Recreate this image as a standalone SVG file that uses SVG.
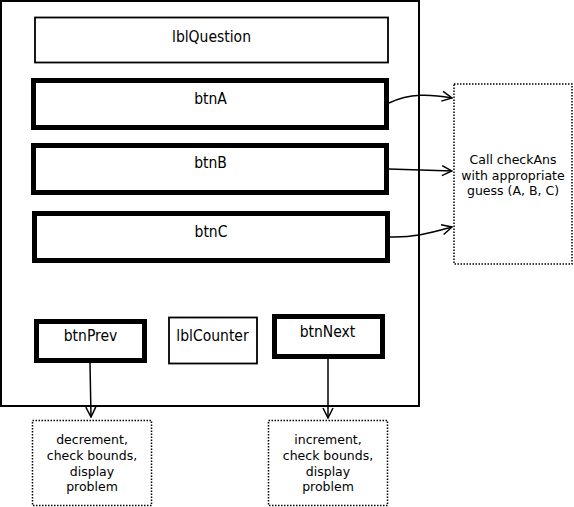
<svg xmlns="http://www.w3.org/2000/svg" width="574" height="507" viewBox="0 0 574 507">
<style>
.hand{font-family:"DejaVu Sans Condensed","Liberation Sans Narrow",sans-serif;font-size:15.5px;fill:#000;text-anchor:middle}
.note{font-family:"DejaVu Sans",sans-serif;font-size:12.5px;fill:#000;text-anchor:middle}
.btn{fill:#fff;stroke:#000;stroke-width:5}
.lbl{fill:#fff;stroke:#000;stroke-width:1.8}
.dot{fill:#fff;stroke:#000;stroke-width:1.5;stroke-dasharray:1.5 1.5}
.conn{fill:none;stroke:#000;stroke-width:1.5}
</style>
<defs>
<marker id="arr" viewBox="0 0 12 12" refX="11" refY="6" markerWidth="12" markerHeight="12" markerUnits="userSpaceOnUse" orient="auto">
<path d="M1,1 L11,6 L1,11" fill="none" stroke="#000" stroke-width="1.5"/>
</marker>
</defs>
<rect width="574" height="507" fill="#fff"/>
<g id="frame"><rect x="1" y="1" width="418" height="405" fill="#fff" stroke="#000" stroke-width="2"/></g>
<g id="lblQuestion"><rect class="lbl" x="35" y="17.5" width="353" height="45"/><text class="hand" x="211.5" y="42">lblQuestion</text></g>
<g id="btnA"><rect class="btn" x="33.5" y="80.5" width="353" height="47"/><text class="hand" x="210.5" y="104">btnA</text></g>
<g id="btnB"><rect class="btn" x="33.5" y="145.5" width="353" height="47"/><text class="hand" x="210.5" y="168">btnB</text></g>
<g id="btnC"><rect class="btn" x="34.5" y="213.5" width="353" height="47"/><text class="hand" x="211" y="237">btnC</text></g>
<g id="btnPrev"><rect class="btn" x="36.5" y="321.5" width="108" height="39"/><text class="hand" x="90.5" y="341">btnPrev</text></g>
<g id="lblCounter"><rect class="lbl" x="169" y="317.5" width="88" height="46"/><text class="hand" x="212.5" y="341">lblCounter</text></g>
<g id="btnNext"><rect class="btn" x="274.5" y="316.5" width="108" height="40"/><text class="hand" x="327.5" y="337">btnNext</text></g>
<g id="checkAns"><rect class="dot" x="454" y="84" width="118" height="180"/>
<text class="note" x="513" y="164">Call checkAns</text>
<text class="note" x="513" y="179.5">with appropriate</text>
<text class="note" x="513" y="195">guess (A, B, C)</text></g>
<g id="prevNote"><rect class="dot" x="32.5" y="420.5" width="119" height="85"/>
<text class="note" x="92" y="444">decrement,</text>
<text class="note" x="92" y="460">check bounds,</text>
<text class="note" x="92" y="476">display</text>
<text class="note" x="92" y="491">problem</text></g>
<g id="nextNote"><rect class="dot" x="268.5" y="420.5" width="119" height="85"/>
<text class="note" x="328" y="444">increment,</text>
<text class="note" x="328" y="460">check bounds,</text>
<text class="note" x="328" y="476">display</text>
<text class="note" x="328" y="491">problem</text></g>
<g id="connectors">
<path class="conn" d="M389,103 C410,93 430,94 452,98" marker-end="url(#arr)"/>
<path class="conn" d="M389,169 L452,171" marker-end="url(#arr)"/>
<path class="conn" d="M389,237 C412,238 430,233 452,227" marker-end="url(#arr)"/>
<path class="conn" d="M90,363 L91,417" marker-end="url(#arr)"/>
<path class="conn" d="M328,359 L328,418" marker-end="url(#arr)"/>
</g>
</svg>
